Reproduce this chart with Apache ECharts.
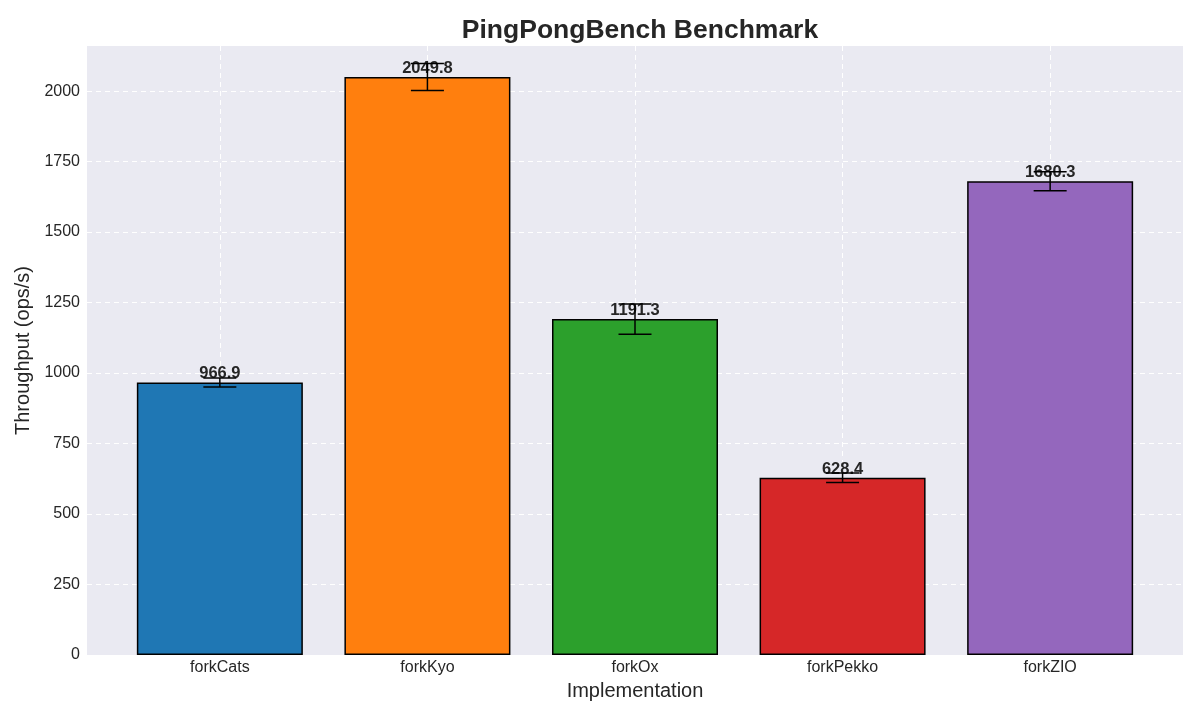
<!DOCTYPE html>
<html>
<head>
    <meta charset="utf-8">
    <title>PingPongBench Benchmark</title>
    <script src="https://cdnjs.cloudflare.com/ajax/libs/echarts/6.0.0/echarts.min.js"></script>
    <style>
        html, body { margin: 0; padding: 0; background: #fff; }
    </style>
</head>
<body>
<div id="main" style="width:1200px; height:720px;"></div>
<script>
    var categories = ['forkCats', 'forkKyo', 'forkOx', 'forkPekko', 'forkZIO'];
    var throughput = [966.9, 2049.8, 1191.3, 628.4, 1680.3];
    var errors = [16, 48, 54, 17, 34];
    var barColors = ['#1f77b4', '#ff7f0e', '#2ca02c', '#d62728', '#9467bd'];
    var yTicks = [0, 250, 500, 750, 1000, 1250, 1500, 1750, 2000];
    var xTicks = [0, 1, 2, 3, 4];

    var chart = echarts.init(document.getElementById('main'));

    var barData = throughput.map(function (v, i) {
        return {
            value: [i, v],
            itemStyle: { color: barColors[i] }
        };
    });
    var errData = throughput.map(function (v, i) {
        return [i, v - errors[i], v + errors[i]];
    });

    var font = 'Liberation Sans, Arial, sans-serif';
    var gridLine = { show: true, lineStyle: { color: '#ffffff', type: [5, 4], width: 1 } };

    var option = {
        animation: false,
        backgroundColor: '#ffffff',
        textStyle: { fontFamily: font },
        title: {
            text: 'PingPongBench Benchmark',
            left: 635,
            textAlign: 'center',
            top: 12,
            textStyle: { fontSize: 26.5, fontWeight: 'bold', color: '#262626', fontFamily: font }
        },
        grid: {
            left: 87, right: 17, top: 46, bottom: 65,
            show: true,
            backgroundColor: '#eaeaf2',
            borderWidth: 0
        },
        xAxis: {
            type: 'value',
            min: -0.64,
            max: 4.64,
            name: 'Implementation',
            nameLocation: 'middle',
            nameGap: 26,
            nameTextStyle: { fontSize: 20, color: '#262626' },
            axisLine: { show: false },
            axisTick: { show: false, customValues: xTicks },
            axisLabel: {
                customValues: xTicks,
                fontSize: 16,
                color: '#262626',
                margin: 5,
                formatter: function (v) { return categories[Math.round(v)]; }
            },
            splitLine: gridLine
        },
        yAxis: {
            type: 'value',
            min: 0,
            max: 2160,
            interval: 250,
            name: 'Throughput (ops/s)',
            nameLocation: 'middle',
            nameGap: 52,
            nameTextStyle: { fontSize: 20, color: '#262626' },
            axisLine: { show: false },
            axisTick: { show: false, customValues: yTicks },
            axisLabel: {
                fontSize: 16,
                color: '#262626',
                margin: 7,
                customValues: yTicks,
                formatter: function (v) { return String(v); }
            },
            splitLine: gridLine
        },
        series: [
            {
                type: 'bar',
                data: barData,
                barWidth: 166,
                itemStyle: { borderColor: '#000000', borderWidth: 1.5 },
                label: {
                    show: true,
                    position: 'top',
                    distance: 0,
                    fontSize: 16.5,
                    fontWeight: 'bold',
                    color: '#262626',
                    fontFamily: font,
                    formatter: function (p) { return p.value[1].toFixed(1); }
                },
                z: 2
            },
            {
                type: 'custom',
                data: errData,
                z: 5,
                renderItem: function (params, api) {
                    var lo = api.coord([api.value(0), api.value(1)]);
                    var hi = api.coord([api.value(0), api.value(2)]);
                    var half = 16.5;
                    var style = { stroke: '#000000', lineWidth: 1.5 };
                    return {
                        type: 'group',
                        children: [
                            { type: 'line', shape: { x1: lo[0], y1: lo[1], x2: hi[0], y2: hi[1] }, style: style },
                            { type: 'line', shape: { x1: lo[0] - half, y1: lo[1], x2: lo[0] + half, y2: lo[1] }, style: style },
                            { type: 'line', shape: { x1: hi[0] - half, y1: hi[1], x2: hi[0] + half, y2: hi[1] }, style: style }
                        ]
                    };
                }
            }
        ]
    };

    chart.setOption(option);
</script>
</body>
</html>
